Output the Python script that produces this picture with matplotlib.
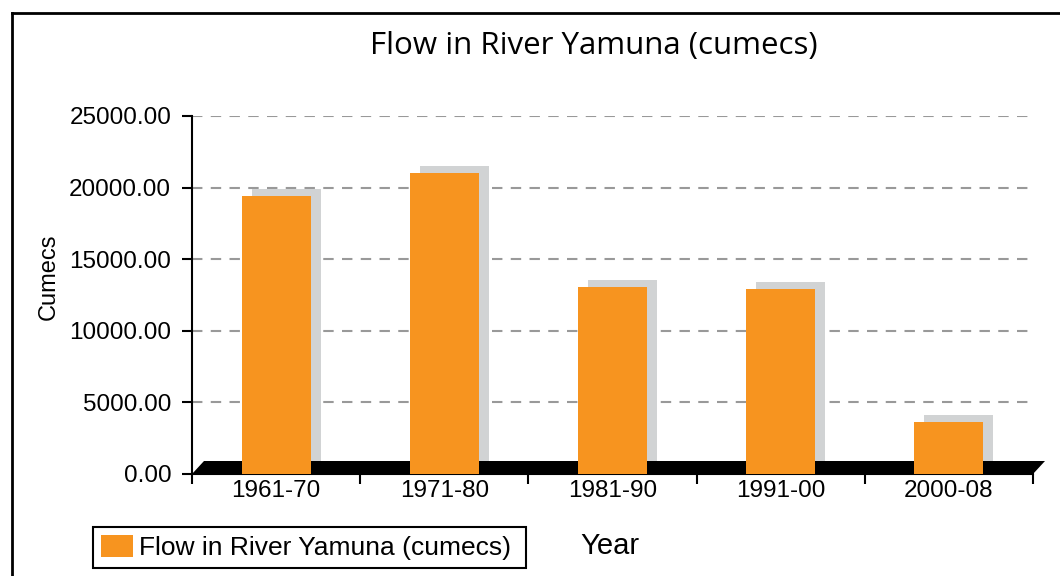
import numpy as np
import matplotlib
matplotlib.use("Agg")
import matplotlib.pyplot as plt
import matplotlib.transforms as mtransforms
from matplotlib.patches import Polygon
from matplotlib.lines import Line2D

# data
years = ["1961-70", "1971-80", "1981-90", "1991-00", "2000-08"]
flow = [19410, 21020, 13060, 12920, 3630]
yticks = [0, 5000, 10000, 15000, 20000, 25000]

orange = "#F7941F"
shade = "#D1D3D4"

plt.rcParams['font.family'] = ['Liberation Sans', 'DejaVu Sans']

fig = plt.figure(figsize=(10.6, 5.76), dpi=100)
W, H = 1060, 576
ax_w, ax_h = 1033 - 192, 358
ax = fig.add_axes([192 / W, 1 - 474 / H, ax_w / W, ax_h / H])

x = np.arange(len(years))
bw = 0.41

# grey "depth" copy of each bar, shifted up and right
shift = mtransforms.ScaledTranslation(10 / 100, 7 / 100, fig.dpi_scale_trans)
ax.bar(x, flow, width=bw, color=shade, zorder=2, transform=ax.transData + shift)

# black floor (parallelogram along the x axis)
dx, dy = 12 / ax_w, 13 / ax_h
ax.add_patch(Polygon([[0, 0], [dx, dy], [1 + dx, dy], [1, 0]], closed=True,
                     facecolor="black", edgecolor="none", zorder=3,
                     transform=ax.transAxes, clip_on=False))

ax.bar(x, flow, width=bw, color=orange, zorder=4, label="Flow in River Yamuna (cumecs) ")

ax.set_xlim(-0.5, 4.5)
ax.set_ylim(0, 25000)
ax.set_yticks(yticks)
ax.set_yticklabels([f"{v:.2f}" for v in yticks])
ax.yaxis.grid(True, color="#999999", linewidth=1.5, linestyle=(0, (5, 4)), zorder=0)
ax.set_axisbelow(True)

ax.set_xticks(np.arange(-0.5, 5, 1))
ax.set_xticklabels([])
ax.set_xticks(x, minor=True)
ax.set_xticklabels(years, minor=True)
ax.tick_params(axis="x", which="major", length=7, width=1.5, direction="out")
ax.tick_params(axis="x", which="minor", length=0, pad=4, labelsize=17.5)
ax.tick_params(axis="y", length=7, width=1.5, direction="out", pad=8, labelsize=17.5)

for s in ["top", "right"]:
    ax.spines[s].set_visible(False)
ax.spines["left"].set_linewidth(1.5)
ax.spines["bottom"].set_linewidth(1.5)

fig.text(594 / W, 1 - 54 / H, "Flow in River Yamuna (cumecs)", ha="center", va="baseline",
         fontsize=22.5, family=["Open Sans", "DejaVu Sans"])
fig.text(49 / W, 1 - 277 / H, "Cumecs", rotation=90, ha="center", va="center", fontsize=17)
fig.text(610 / W, 1 - 546 / H, "Year", ha="center", va="center", fontsize=21)

leg = ax.legend(loc="upper left", bbox_to_anchor=(93 / W, 1 - 527 / H), bbox_transform=fig.transFigure,
                fontsize=19, frameon=True, fancybox=False, edgecolor="black", framealpha=1,
                borderpad=0.3, handlelength=1.2, handleheight=0.9, handletextpad=0.25,
                borderaxespad=0)
leg.get_frame().set_linewidth(1.5)

# outer frame (left and top edges visible)
fig.add_artist(Line2D([12 / W, 12 / W], [0, 1 - 13 / H], color="black", lw=2, transform=fig.transFigure))
fig.add_artist(Line2D([12 / W, 1], [1 - 13 / H, 1 - 13 / H], color="black", lw=2, transform=fig.transFigure))

fig.savefig("out.png", dpi=100)
